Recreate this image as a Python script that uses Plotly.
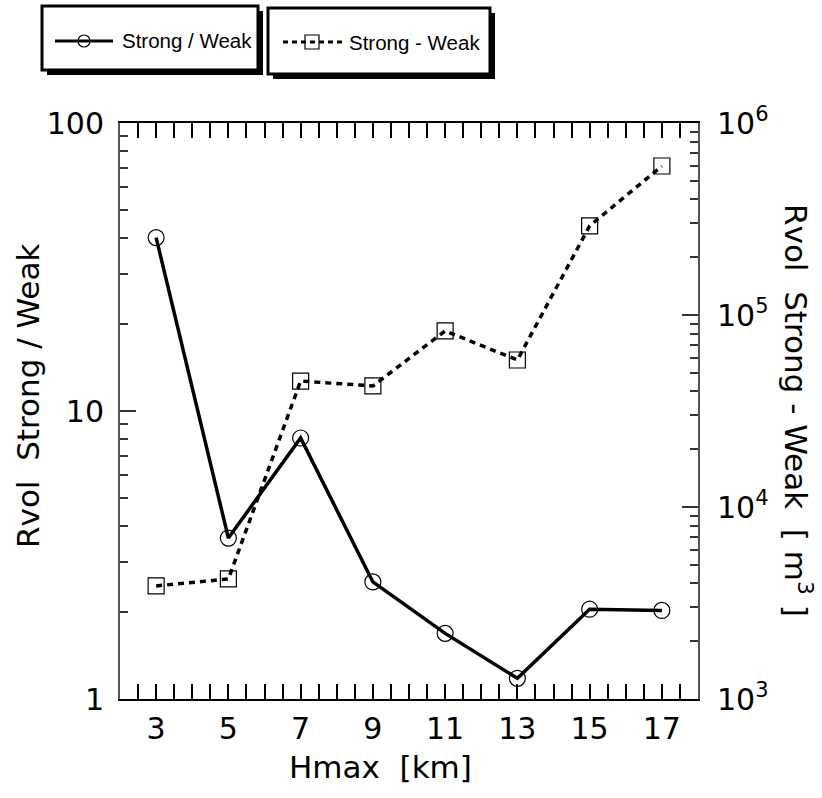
import plotly.graph_objects as go

# Maximum height of the cells (km)
hmax = [3, 5, 7, 9, 11, 13, 15, 17]
# Volume ratio strong / weak
ratio_strong_weak = [40.0, 3.62, 8.06, 2.55, 1.69, 1.18, 2.05, 2.03]
# Volume difference strong - weak (m^3)
diff_strong_weak = [3880, 4220, 45300, 42700, 82600, 58300, 291000, 597000]

x_ticks = [3, 5, 7, 9, 11, 13, 15, 17]
left_ticks = [1, 10, 100]
left_ticktext = ["1", "10", "100"]
right_ticks = [1e3, 1e4, 1e5, 1e6]
right_ticktext = ["10<sup>3</sup>", "10<sup>4</sup>", "10<sup>5</sup>", "10<sup>6</sup>"]

FONT = "DejaVu Sans, Liberation Sans, Arial, sans-serif"
LEGEND_FONT = "Liberation Sans, Arial, sans-serif"
W, H = 822, 798
L, R, T, B = 120, 698, 123, 699  # plot area in pixels


def px(x):
    return (x - L) / (R - L)


def py(y):
    return (B - y) / (B - T)


fig = go.Figure()
fig.add_trace(go.Scatter(
    x=hmax, y=ratio_strong_weak, name="Strong / Weak", mode="lines+markers",
    line=dict(color="black", width=3.5),
    marker=dict(symbol="circle-open", size=16, color="black", line=dict(width=1.2)),
    yaxis="y", cliponaxis=False,
))
fig.add_trace(go.Scatter(
    x=hmax, y=diff_strong_weak, name="Strong - Weak", mode="lines+markers",
    line=dict(color="black", width=3.5, dash="6px,5px"),
    marker=dict(symbol="square-open", size=16, color="black", line=dict(width=1.2)),
    yaxis="y2", cliponaxis=False,
))

minor_log = [m * 10 ** e for e in range(0, 6) for m in range(2, 10)]

fig.update_layout(
    width=W, height=H,
    margin=dict(l=L, r=W - R, t=T, b=H - B),
    paper_bgcolor="white", plot_bgcolor="white",
    showlegend=False,
    font=dict(family=FONT, size=30, color="black"),
    xaxis=dict(
        range=[2, 18], tickmode="array", tickvals=x_ticks,
        ticks="inside", ticklen=15, tickwidth=1.5, tickcolor="black",
        showline=True, linewidth=2, linecolor="black", mirror="allticks",
        showgrid=False, zeroline=False, ticklabelstandoff=2,
        tickfont=dict(size=30, family=FONT),
        minor=dict(dtick=0.5, tick0=2, ticks="inside", ticklen=8,
                   tickwidth=1.5, tickcolor="black", showgrid=False),
    ),
    yaxis=dict(
        type="log", range=[0, 2], tickmode="array",
        tickvals=left_ticks, ticktext=left_ticktext,
        ticks="inside", ticklen=16, tickwidth=1.5, tickcolor="#333",
        showline=True, linewidth=2, linecolor="#555",
        showgrid=False, zeroline=False, ticklabelstandoff=8,
        tickfont=dict(size=30, family=FONT),
        minor=dict(tickmode="array", tickvals=[v for v in minor_log if 1 < v < 100],
                   ticks="inside", ticklen=8, tickwidth=1.5, tickcolor="#333",
                   showgrid=False),
    ),
    yaxis2=dict(
        type="log", range=[3, 6], overlaying="y", side="right",
        tickmode="array", tickvals=right_ticks, ticktext=right_ticktext,
        ticks="inside", ticklen=16, tickwidth=1.5, tickcolor="#333",
        showline=True, linewidth=2, linecolor="#555",
        showgrid=False, zeroline=False, ticklabelstandoff=11,
        tickfont=dict(size=30, family=FONT),
        minor=dict(tickmode="array", tickvals=[v for v in minor_log if 1e3 < v < 1e6],
                   ticks="inside", ticklen=8, tickwidth=1.5, tickcolor="#333",
                   showgrid=False),
    ),
)

# Axis titles
fig.add_annotation(text="Hmax  [km]", xref="paper", yref="paper",
                   x=px(380), y=py(767), xanchor="center", yanchor="middle",
                   showarrow=False, font=dict(size=31, family=FONT))
fig.add_annotation(text="Rvol  Strong / Weak", xref="paper", yref="paper",
                   x=px(28), y=py(396), xanchor="center", yanchor="middle",
                   textangle=-90, showarrow=False, font=dict(size=31, family=FONT))
fig.add_annotation(text="Rvol  Strong - Weak  [ m<sup>3</sup> ]", xref="paper", yref="paper",
                   x=px(798), y=py(410), xanchor="center", yanchor="middle",
                   textangle=90, showarrow=False, font=dict(size=31, family=FONT))

# Legend boxes with drop shadows
shapes = []
boxes = [(42, 6, 258, 70), (268, 8, 490, 74)]
for (x0, y0, x1, y1) in boxes:
    shapes.append(dict(type="rect", xref="paper", yref="paper",
                       x0=px(x0 + 5), x1=px(x1 + 5), y0=py(y0 + 5), y1=py(y1 + 5),
                       line=dict(width=0), fillcolor="black", layer="above"))
    shapes.append(dict(type="rect", xref="paper", yref="paper",
                       x0=px(x0), x1=px(x1), y0=py(y0), y1=py(y1),
                       line=dict(width=3, color="black"), fillcolor="white", layer="above"))

# Legend sample: solid line with circle
ly1 = 41
shapes.append(dict(type="line", xref="paper", yref="paper",
                   x0=px(55), x1=px(113), y0=py(ly1), y1=py(ly1),
                   line=dict(color="black", width=3), layer="above"))
shapes.append(dict(type="circle", xref="paper", yref="paper",
                   x0=px(84 - 6), x1=px(84 + 6), y0=py(ly1 - 6), y1=py(ly1 + 6),
                   line=dict(color="black", width=1.2), fillcolor="rgba(0,0,0,0)", layer="above"))
# Legend sample: dashed line with square
ly2 = 42
shapes.append(dict(type="line", xref="paper", yref="paper",
                   x0=px(283), x1=px(343), y0=py(ly2), y1=py(ly2),
                   line=dict(color="black", width=3, dash="5px,4px"), layer="above"))
shapes.append(dict(type="rect", xref="paper", yref="paper",
                   x0=px(312 - 7), x1=px(312 + 7), y0=py(ly2 - 7), y1=py(ly2 + 7),
                   line=dict(color="black", width=1.2), fillcolor="rgba(0,0,0,0)", layer="above"))
fig.update_layout(shapes=shapes)

fig.add_annotation(text="Strong / Weak", xref="paper", yref="paper",
                   x=px(120), y=py(ly1), xanchor="left", yanchor="middle",
                   showarrow=False, font=dict(size=20.5, family=LEGEND_FONT))
fig.add_annotation(text="Strong - Weak", xref="paper", yref="paper",
                   x=px(347), y=py(ly2), xanchor="left", yanchor="middle",
                   showarrow=False, font=dict(size=20.5, family=LEGEND_FONT))

fig.write_html("out.html")
